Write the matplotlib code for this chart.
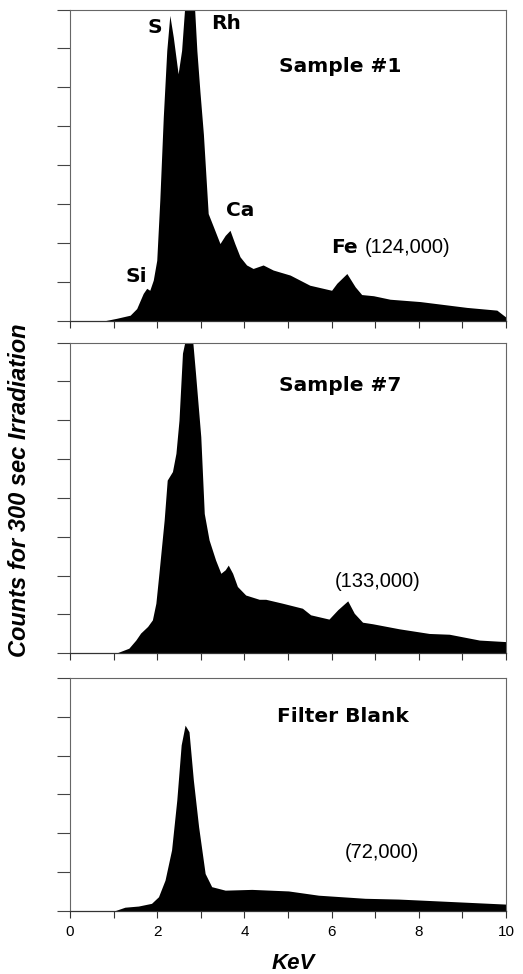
import numpy as np
import matplotlib
matplotlib.use("Agg")
import matplotlib.pyplot as plt

# spectra; y in tick units (one tick = one division)
kev1 = [0.0, 0.76, 1.07, 1.38, 1.53, 1.68, 1.76, 1.83, 1.91, 1.99, 2.06, 2.14, 2.22, 2.29, 2.37,
        2.48, 2.56, 2.64, 2.72, 2.83, 2.91, 2.98, 3.06, 3.17, 3.29, 3.44, 3.56, 3.67, 3.78, 3.90,
        4.05, 4.20, 4.43, 4.66, 5.05, 5.50, 6.00, 6.12, 6.35, 6.54, 6.69, 6.96, 7.34, 8.03, 9.10,
        9.79, 9.94, 10.0]
cnt1 = [0.0, 0.0, 0.07, 0.15, 0.32, 0.71, 0.84, 0.79, 1.05, 1.56, 3.1, 5.24, 6.95, 7.85, 7.29,
        6.35, 6.95, 8.2, 8.8, 8.6, 6.95, 5.9, 4.8, 2.76, 2.42, 1.99, 2.2, 2.33, 1.99, 1.65,
        1.44, 1.35, 1.44, 1.31, 1.18, 0.92, 0.79, 0.97, 1.22, 0.88, 0.68, 0.65, 0.56, 0.50, 0.35,
        0.28, 0.15, 0.10]

kev7 = [0.0, 1.05, 1.35, 1.51, 1.62, 1.78, 1.89, 1.97, 2.04, 2.16, 2.23, 2.35, 2.43, 2.50, 2.58,
        2.65, 2.73, 2.81, 2.88, 3.00, 3.08, 3.19, 3.34, 3.46, 3.56, 3.63, 3.73, 3.84, 4.03, 4.34,
        4.49, 4.87, 5.33, 5.52, 5.94, 6.14, 6.37, 6.52, 6.71, 6.94, 7.55, 8.24, 8.70, 9.39, 10.0]
cnt7 = [0.0, 0.0, 0.13, 0.34, 0.52, 0.69, 0.86, 1.29, 2.06, 3.43, 4.46, 4.68, 5.15, 6.0, 7.73,
        8.1, 8.2, 8.1, 7.2, 5.58, 3.6, 2.92, 2.40, 2.06, 2.15, 2.27, 2.06, 1.72, 1.50, 1.39,
        1.39, 1.29, 1.16, 0.99, 0.88, 1.12, 1.35, 1.03, 0.80, 0.76, 0.63, 0.51, 0.49, 0.34, 0.30]

kevb = [0.0, 1.03, 1.26, 1.57, 1.87, 2.03, 2.18, 2.33, 2.45, 2.55, 2.64, 2.73, 2.83, 2.95, 3.10,
        3.25, 3.56, 4.17, 5.01, 5.70, 6.77, 7.54, 8.30, 10.0]
cntb = [0.0, 0.0, 0.09, 0.12, 0.19, 0.36, 0.79, 1.57, 2.86, 4.28, 4.79, 4.62, 3.37, 2.17, 0.96,
        0.62, 0.53, 0.55, 0.51, 0.40, 0.32, 0.30, 0.26, 0.17]

xticks = list(range(11))
xlabels = ["0", "", "2", "", "4", "", "6", "", "8", "", "10"]

fig = plt.figure(figsize=(5.23, 9.74), dpi=100)
ax1 = fig.add_axes([0.1338, 0.6704, 0.8337, 0.3198])
ax2 = fig.add_axes([0.1338, 0.3293, 0.8337, 0.3189])
ax3 = fig.add_axes([0.1338, 0.0650, 0.8337, 0.2386])

panels = [(ax1, kev1, cnt1, 8), (ax2, kev7, cnt7, 8), (ax3, kevb, cntb, 6)]
for ax, x, y, top in panels:
    ax.fill_between(x, 0, y, color="black", linewidth=0)
    ax.set_xlim(0, 10)
    ax.set_ylim(0, top)
    ax.set_yticks(range(top + 1))
    ax.set_yticklabels([])
    ax.set_xticks(xticks)
    ax.tick_params(axis="y", direction="out", length=9.5, width=0.8, color="#444444")
    ax.tick_params(axis="x", direction="out", length=5, width=0.8, color="#333333")
    for s in ["left", "right", "top"]:
        ax.spines[s].set_color("#666666")
        ax.spines[s].set_linewidth(0.8)
    ax.spines["bottom"].set_color("#333333")
    ax.spines["bottom"].set_linewidth(0.9)

ax1.set_xticklabels([])
ax2.set_xticklabels([])
ax3.set_xticklabels(xlabels, fontsize=11, family="Liberation Sans")
ax3.tick_params(axis="x", pad=5)

bold = dict(fontsize=14.5, fontweight="bold", family="DejaVu Sans", ha="center", va="center")
plain = dict(fontsize=14.5, family="Liberation Sans", ha="center", va="center")

ax1.text(6.2, 6.55, "Sample #1", **bold)
ax1.text(1.95, 7.55, "S", **bold)
ax1.text(3.57, 7.65, "Rh", **bold)
ax1.text(3.9, 2.85, "Ca", **bold)
ax1.text(1.52, 1.15, "Si", **bold)
ax1.text(6.3, 1.9, "Fe", **bold)
ax1.text(7.75, 1.9, "(124,000)", **plain)

ax2.text(6.2, 6.9, "Sample #7", **bold)
ax2.text(7.05, 1.84, "(133,000)", **plain)

ax3.text(6.25, 5.02, "Filter Blank", **bold)
ax3.text(7.15, 1.49, "(72,000)", **plain)

fig.text(0.038, 0.497, "Counts for 300 sec Irradiation", rotation=90, ha="center", va="center",
         fontsize=17, fontweight="bold", fontstyle="italic", family="Liberation Sans")
fig.text(0.56, 0.0103, "KeV", ha="center", va="center",
         fontsize=16, fontweight="bold", fontstyle="italic", family="Liberation Sans")

fig.savefig("out.png", dpi=100)
